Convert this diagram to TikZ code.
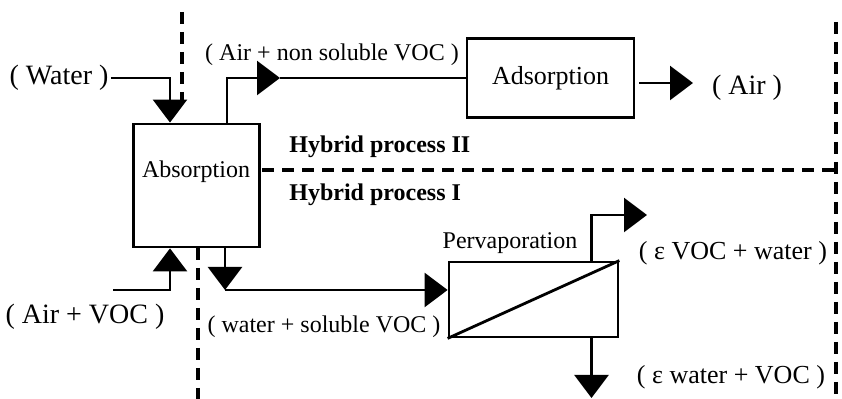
\documentclass[tikz,border=0pt]{standalone}
\usepackage{fontspec}
\setmainfont{Liberation Serif}
\usetikzlibrary{arrows.meta,calc}
\tikzset{
  unit/.style={draw, rectangle, line width=1.4pt, inner sep=0pt},
  lbl/.style={inner sep=1pt, font=\fontsize{12}{14}\selectfont},
  midlbl/.style={inner sep=1pt, font=\fontsize{13}{15}\selectfont},
  biglbl/.style={inner sep=1pt, font=\fontsize{14}{16}\selectfont},
  zone/.style={inner sep=1pt, anchor=west, font=\fontsize{12}{14}\selectfont\bfseries},
  arr/.style={-{Triangle[length=11.5pt,width=17pt]}, line width=1.3pt},
  flow/.style={line width=1.3pt},
  dashedline/.style={line width=1.6pt, dash pattern=on 6pt off 4pt}
}

\begin{document}
\begin{tikzpicture}[x=0.5pt,y=-0.5pt]
\useasboundingbox (0,0) rectangle (842,399);

\node[unit, minimum width=63pt, minimum height=61.5pt] (absorb) at (196.5,185.5) {};
\node[lbl] (absorbtxt) at (196,172) {Absorption};
\node[unit, minimum width=83.5pt, minimum height=39.5pt, font=\fontsize{13}{15}\selectfont] (adsorb) at (550.5,78) {Adsorption};
\node[unit, minimum width=84.5pt, minimum height=37.5pt] (perv) at (533.5,299.5) {};
\node[lbl] (pervtxt) at (510,243) {Pervaporation};

\node[biglbl] (water) at (59,78) {( Water )};
\node[lbl] (airnsv) at (332,55) {( Air + non soluble VOC )};
\node[biglbl] (air) at (747,88) {( Air )};
\node[zone] (hyb2) at (287,147) {Hybrid process II};
\node[zone] (hyb1) at (287,195) {Hybrid process I};
\node[biglbl] (airvoc) at (85,317) {( Air + VOC )};
\node[lbl] (wsv) at (324,327) {( water + soluble VOC )};
\node[midlbl] (perm) at (733,253) {( ε VOC + water )};
\node[midlbl] (ret) at (731,377) {( ε water + VOC )};

\coordinate (dtopa) at (182,12);
\coordinate (dtopb) at (182,100);
\coordinate (dbota) at (198,248);
\coordinate (dbotb) at (198,399);
\coordinate (dmida) at (262,170);
\coordinate (dmidb) at (836,170);
\coordinate (drighta) at (836,22);
\coordinate (drightb) at (836,399);
\draw[dashedline] (dtopa) -- (dtopb);
\draw[dashedline] (dbota) -- (dbotb);
\draw[dashedline] (dmida) -- (dmidb);
\draw[dashedline] (drighta) -- (drightb);

\coordinate (waterin) at (170,124);
\coordinate (airin) at (113,290);
\coordinate (airmid) at (280,78);
\coordinate (airup) at (227,124);
\coordinate (airtip) at (693,83);
\coordinate (liqjoin) at (225,290);
\coordinate (permtip) at (647,215);
\coordinate (rettip) at (591.5,398);

\draw[arr] (water.east) -| (absorb.north -| waterin);
\draw[arr] (airin) -| (absorb.south -| waterin);
\draw[arr] (absorb.north -| airup) |- (airmid);
\draw[flow] (airmid) -- (adsorb.west);
\draw[arr] ($(adsorb.east |- airtip)+(4,0)$) -- (airtip);
\draw[arr] (absorb.south -| liqjoin) -- (liqjoin);
\draw[arr] (liqjoin) -- (perv.west |- liqjoin);
\draw[line width=1.4pt] (perv.south west) -- (perv.north east);
\draw[arr] (perv.north -| rettip) |- (permtip);
\draw[arr] (perv.south -| rettip) -- (rettip);
\end{tikzpicture}
\end{document}
